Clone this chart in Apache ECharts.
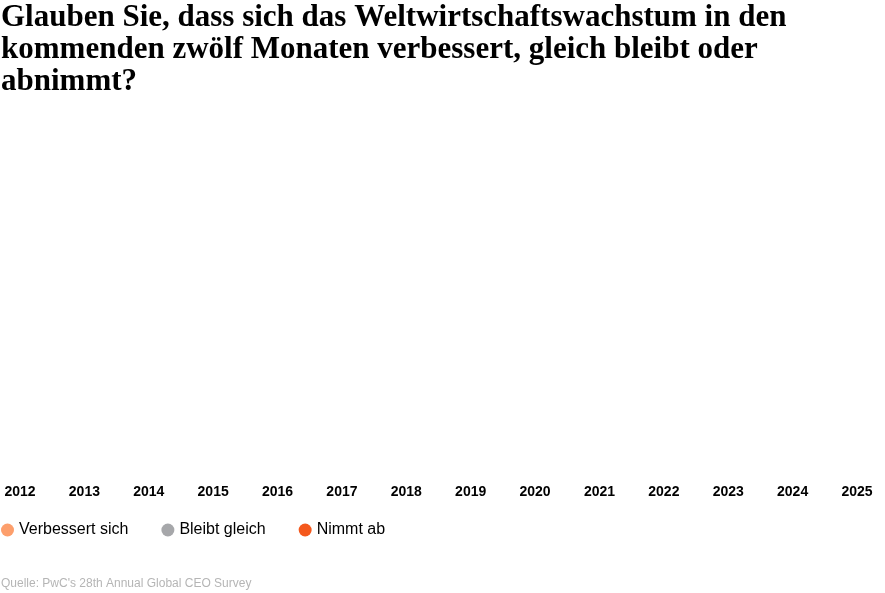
<!DOCTYPE html>
<html>
<head>
<meta charset="utf-8">
<script src="https://cdn.jsdelivr.net/npm/echarts@6/dist/echarts.min.js"></script>
<style>html,body{margin:0;padding:0;background:#fff}#chart{width:885px;height:593px}</style>
</head>
<body>
<div id="chart"></div>
<script>
var years = ['2012','2013','2014','2015','2016','2017','2018','2019','2020','2021','2022','2023','2024','2025']
var seriesNames = ['Verbessert sich', 'Bleibt gleich', 'Nimmt ab']
var seriesColors = ['#fd9f6c', '#a6a7aa', '#f4581c']
// no values are drawn in the reference
var improves = []
var same = []
var declines = []

var myChart = echarts.init(document.getElementById('chart'))
var option = {
    animation: false,
    title: [{
        text: 'Glauben Sie, dass sich das Weltwirtschaftswachstum in den\nkommenden zwölf Monaten verbessert, gleich bleibt oder\nabnimmt?',
        left: 1,
        top: 2,
        padding: 0,
        textStyle: {
            fontFamily: 'Liberation Serif',
            fontWeight: 'bold',
            fontSize: 31,
            lineHeight: 32,
            color: '#000'
        }
    }, {
        text: 'Quelle: PwC\'s 28th Annual Global CEO Survey',
        left: 1,
        top: 578,
        padding: 0,
        textStyle: {fontFamily: 'Liberation Sans', fontWeight: 'normal', fontSize: 12, color: '#b5b5b5'}
    }],
    legend: {
        left: 1,
        top: 522,
        padding: 0,
        icon: 'circle',
        itemWidth: 13,
        itemHeight: 13,
        itemGap: 33,
        textStyle: {fontFamily: 'Liberation Sans', fontSize: 16, color: '#000'},
        data: seriesNames
    },
    grid: {left: 20, right: 28, top: 120, bottom: 120},
    xAxis: {
        type: 'category',
        boundaryGap: false,
        data: years,
        axisLine: {show: false},
        axisTick: {show: false},
        axisLabel: {fontFamily: 'Liberation Sans', fontWeight: 'bold', fontSize: 14, color: '#000', margin: 12, interval: 0}
    },
    yAxis: {type: 'value', show: false, min: 0, max: 100},
    series: [
        {name: seriesNames[0], type: 'line', color: seriesColors[0], data: improves},
        {name: seriesNames[1], type: 'line', color: seriesColors[1], data: same},
        {name: seriesNames[2], type: 'line', color: seriesColors[2], data: declines}
    ]
}
myChart.setOption(option)
</script>
</body>
</html>
